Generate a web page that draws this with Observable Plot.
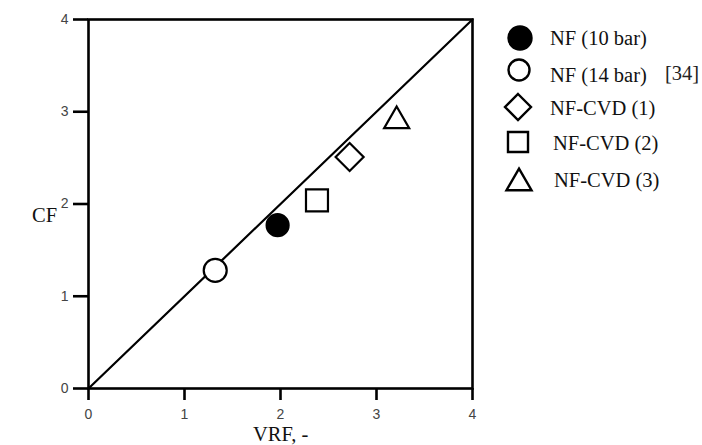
<!DOCTYPE html>
<html>
<head>
<meta charset="utf-8">
<script src="https://cdn.jsdelivr.net/npm/d3@7"></script>
<script src="https://cdn.jsdelivr.net/npm/@observablehq/plot@0.6"></script>
<style>
  html, body { margin: 0; padding: 0; background: white; }
  #chart { width: 702px; height: 445px; }
</style>
</head>
<body>
<div id="chart"></div>
<script>
// ---- data ----
const series = ["NF (10 bar)", "NF (14 bar)", "NF-CVD (1)", "NF-CVD (2)", "NF-CVD (3)"];
const vrf = [1.97, 1.32, 2.72, 2.38, 3.21];
const cf = [1.77, 1.28, 2.51, 2.04, 2.90];
const ticks = [0, 1, 2, 3, 4];
const diagonal = [0, 4];
const citation = "[34]";
const xLabel = "VRF, -";
const yLabel = "CF";

// ---- styles ----
const styles = {
  "NF (10 bar)": {symbol: "circle", r: 11, fill: "black", lr: 11.5},
  "NF (14 bar)": {symbol: "circle", r: 11.5, fill: "white", lr: 10.5},
  "NF-CVD (1)": {symbol: "diamond2", r: 12.6, fill: "white", lr: 11.7},
  "NF-CVD (2)": {symbol: "square", r: 12.4, fill: "white", lr: 11.3},
  "NF-CVD (3)": {symbol: "triangle", r: 9.3, fill: "white", lr: 9.3}
};
const d3Symbols = {circle: d3.symbolCircle, diamond2: d3.symbolDiamond2, square: d3.symbolSquare, triangle: d3.symbolTriangle};
const tickFont = {fontSize: 14, fontFamily: "Liberation Sans", fill: "#444"};

const idx = d3.range(series.length);

const plot = Plot.plot({
  width: 702,
  height: 445,
  marginLeft: 88,
  marginRight: 230,
  marginTop: 19,
  marginBottom: 57,
  style: {background: "white", fontFamily: "Liberation Sans", overflow: "visible"},
  x: {domain: [0, 4]},
  y: {domain: [0, 4]},
  marks: [
    Plot.frame({stroke: "black", strokeWidth: 2.6}),
    Plot.axisX({ticks, tickSize: 12, strokeWidth: 2.6, stroke: "black", text: null, label: null}),
    Plot.axisY({ticks, tickSize: 15, strokeWidth: 2.6, stroke: "black", text: null, label: null}),
    Plot.text(ticks, {x: d => d, text: d => String(d), frameAnchor: "bottom", lineAnchor: "top", dy: 21, ...tickFont}),
    Plot.text(ticks, {y: d => d, text: d => String(d), frameAnchor: "left", textAnchor: "end", dx: -20, ...tickFont}),
    Plot.line(diagonal, {x: d => d, y: d => d, stroke: "black", strokeWidth: 2.2}),
    ...idx.map(i => {
      const s = styles[series[i]];
      return Plot.dot([i], {
        x: j => vrf[j], y: j => cf[j],
        symbol: s.symbol, r: s.r, fill: s.fill, stroke: "black", strokeWidth: 2.2
      });
    })
  ]
});

document.getElementById("chart").appendChild(plot);

const svg = d3.select(plot);

// ---- axis titles & legend ----
const serif = "'Liberation Serif', 'Times New Roman', serif";
const g = svg.append("g").attr("text-anchor", "start").attr("font-family", serif).attr("font-size", 20.5);
g.append("text").attr("x", 32).attr("y", 222).attr("fill", "#111").text(yLabel);
g.append("text").attr("x", 253).attr("y", 441).attr("fill", "#111").text(xLabel);

const legendSym = [[520, 38], [519, 70], [518, 107], [518, 142], [519, 183]];
const legendText = [[550, 45], [550, 82], [550, 115], [553, 150], [554, 187]];
idx.forEach(i => {
  const s = styles[series[i]];
  g.append("path")
    .attr("transform", `translate(${legendSym[i][0]},${legendSym[i][1]})`)
    .attr("d", d3.symbol(d3Symbols[s.symbol], Math.PI * s.lr * s.lr)())
    .attr("fill", s.fill).attr("stroke", "black").attr("stroke-width", 2.4);
  g.append("text").attr("x", legendText[i][0]).attr("y", legendText[i][1])
    .attr("fill", "#111").text(series[i]);
});
g.append("text").attr("x", 665).attr("y", 80).attr("fill", "#222").text(citation);
</script>
</body>
</html>
